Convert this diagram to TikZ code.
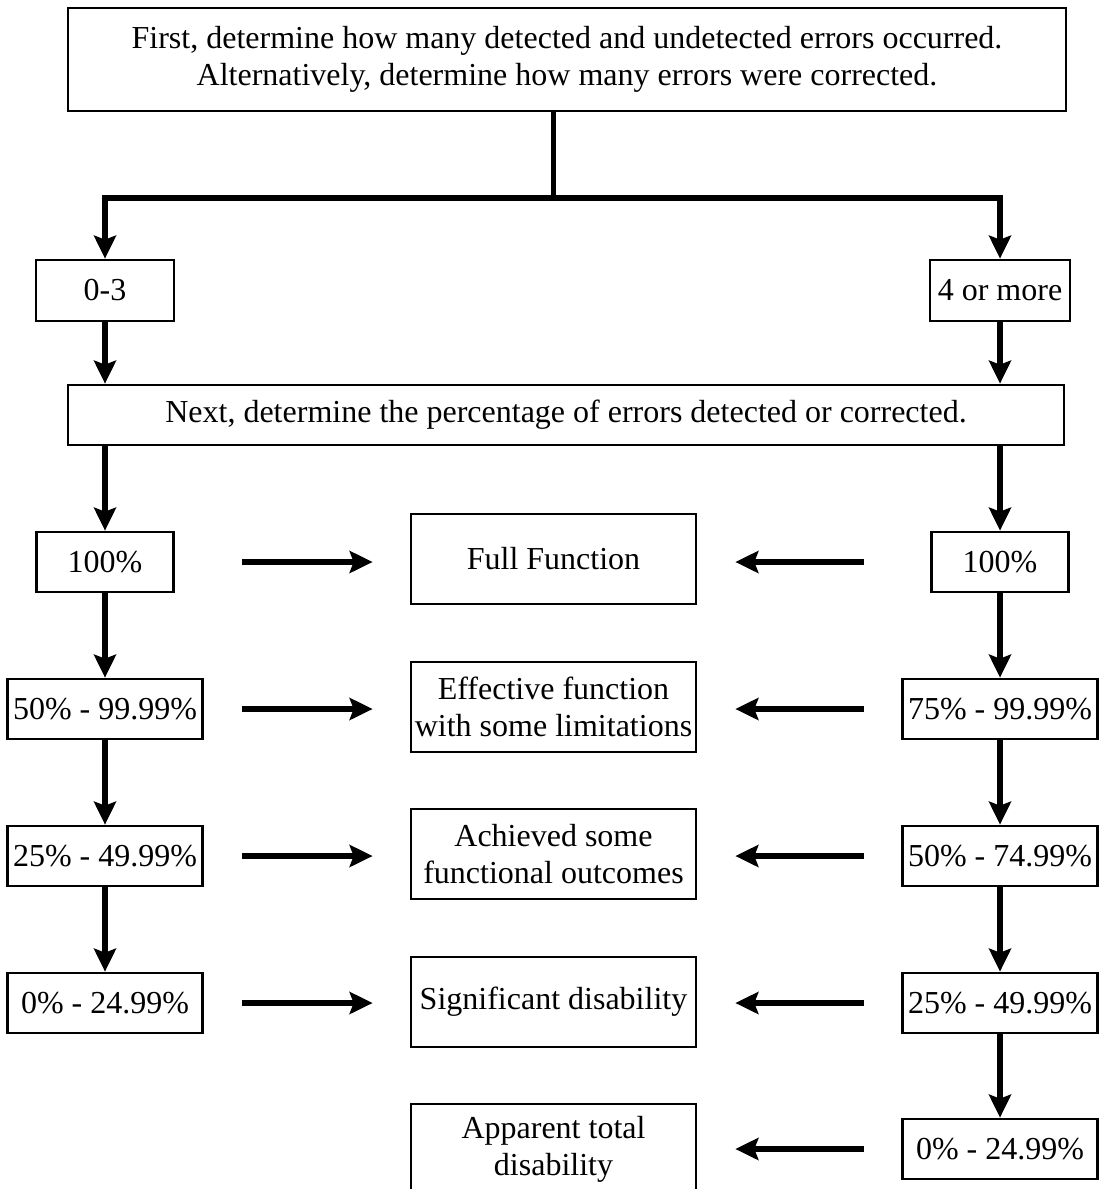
\documentclass[tikz,border=0pt]{standalone}
\usepackage{fontspec}
\setmainfont{Liberation Serif}
\usetikzlibrary{arrows.meta}
\tikzset{
  mytip/.tip={Stealth[length=23pt,width=22pt,inset=4pt]},
  box/.style={draw, line width=2.7pt, inner sep=0pt, align=center, font=\fontsize{32}{37}\selectfont},
  smallbox/.style={box, minimum width=137pt, minimum height=60pt},
  widebox/.style={box, minimum width=195pt, minimum height=60pt},
  midbox/.style={box, minimum width=285pt, minimum height=90pt},
  conn/.style={line width=5.5pt},
  arr/.style={conn, -mytip},
}
\begin{document}
\begin{tikzpicture}[x=1pt,y=-1pt]
\useasboundingbox (0,0) rectangle (1098,1189);
% top
\node[box, minimum width=998pt, minimum height=103pt] (top) at (567,59.5)
  {First, determine how many detected and undetected errors occurred.\\Alternatively, determine how many errors were corrected.};
\node[box, minimum width=138pt, minimum height=61pt] (a) at (105,290.5) {0-3};
\node[box, minimum width=140pt, minimum height=61pt] (b) at (1000,290.5) {4 or more};
\node[box, minimum width=996pt, minimum height=60pt] (next) at (566,415)
  {Next, determine the percentage of errors detected or corrected.};
% left column
\node[smallbox] (L1) at (105,562) {100\%};
\node[widebox] (L2) at (105,709) {50\% - 99.99\%};
\node[widebox] (L3) at (105,856) {25\% - 49.99\%};
\node[widebox] (L4) at (105,1003) {0\% - 24.99\%};
% right column
\node[smallbox] (R1) at (1000,562) {100\%};
\node[widebox] (R2) at (1000,709) {75\% - 99.99\%};
\node[widebox] (R3) at (1000,856) {50\% - 74.99\%};
\node[widebox] (R4) at (1000,1003) {25\% - 49.99\%};
\node[widebox] (R5) at (1000,1149) {0\% - 24.99\%};
% middle column
\node[midbox] (M1) at (553.5,559) {Full Function};
\node[midbox] (M2) at (553.5,707) {Effective function\\with some limitations};
\node[midbox] (M3) at (553.5,854) {Achieved some\\functional outcomes};
\node[midbox] (M4) at (553.5,1002) {Significant disability};
\node[midbox] (M5) at (553.5,1149) {Apparent total\\disability};
% split from top
\coordinate (split) at (553.5,198);
\draw[conn] (top.south -| split) -- (split);
\draw[conn, mytip-mytip] (a.north) |- (split) -| (b.north);
\draw[arr] (a.south) -- (a.south |- next.north);
\draw[arr] (b.south) -- (b.south |- next.north);
\draw[arr] (next.south -| L1) -- (L1.north);
\draw[arr] (next.south -| R1) -- (R1.north);
% left chain
\draw[arr] (L1.south) -- (L2.north);
\draw[arr] (L2.south) -- (L3.north);
\draw[arr] (L3.south) -- (L4.north);
% right chain
\draw[arr] (R1.south) -- (R2.north);
\draw[arr] (R2.south) -- (R3.north);
\draw[arr] (R3.south) -- (R4.north);
\draw[arr] (R4.south) -- (R5.north);
% horizontal arrows left
\draw[arr, shorten <=67pt, shorten >=37pt] (L1.east) -- (L1.east -| M1.west);
\draw[arr, shorten <=38pt, shorten >=37pt] (L2.east) -- (L2.east -| M2.west);
\draw[arr, shorten <=38pt, shorten >=37pt] (L3.east) -- (L3.east -| M3.west);
\draw[arr, shorten <=38pt, shorten >=37pt] (L4.east) -- (L4.east -| M4.west);
% horizontal arrows right
\draw[arr, shorten <=66pt, shorten >=38pt] (R1.west) -- (R1.west -| M1.east);
\draw[arr, shorten <=37pt, shorten >=38pt] (R2.west) -- (R2.west -| M2.east);
\draw[arr, shorten <=37pt, shorten >=38pt] (R3.west) -- (R3.west -| M3.east);
\draw[arr, shorten <=37pt, shorten >=38pt] (R4.west) -- (R4.west -| M4.east);
\draw[arr, shorten <=37pt, shorten >=38pt] (R5.west) -- (R5.west -| M5.east);
\end{tikzpicture}
\end{document}
